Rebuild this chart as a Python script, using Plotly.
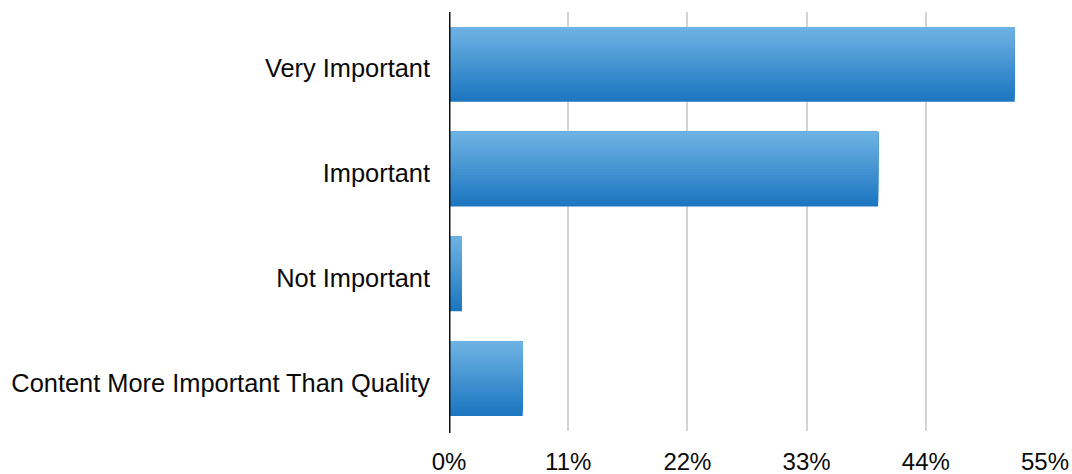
import plotly.graph_objects as go

categories = ["Very Important", "Important", "Not Important", "Content More Important Than Quality"]
values = [52.2, 39.6, 1.2, 6.8]
tick_vals = [0, 11, 22, 33, 44, 55]
tick_text = ["0%", "11%", "22%", "33%", "44%", "55%"]

# gradient simulation: stacked overlay layers, dark bottom -> light top
top_rgb = (110, 178, 228)
bot_rgb = (28, 118, 192)
N = 24
bar_w = 0.714
fig = go.Figure()
for k in range(N):
    t = k / (N - 1)
    c = tuple(int(round(bot_rgb[i] + (top_rgb[i] - bot_rgb[i]) * t)) for i in range(3))
    w = bar_w * (1 - k / N)
    fig.add_trace(go.Bar(
        y=categories, x=values, orientation="h",
        width=w, offset=-bar_w / 2,
        marker=dict(color="rgb(%d,%d,%d)" % c, line=dict(width=0)),
        hoverinfo="skip" if k else "x+y", showlegend=False,
    ))

fig.update_layout(
    barmode="overlay",
    width=1072, height=474,
    margin=dict(l=449, r=27, t=11.5, b=42.5, autoexpand=False),
    paper_bgcolor="white", plot_bgcolor="white",
    font=dict(family="Liberation Sans, Arial, sans-serif", size=25.4, color="#0a0a0a"),
    xaxis=dict(
        range=[0, 55], tickvals=tick_vals, ticktext=tick_text,
        showgrid=True, gridcolor="#d4d4d4", gridwidth=1.5,
        zeroline=False, showline=False, ticks="", ticklabelstandoff=14,
        tickfont=dict(size=24), automargin=False,
        fixedrange=True,
    ),
    yaxis=dict(
        categoryorder="array", categoryarray=categories, autorange="reversed",
        showgrid=False, zeroline=False, ticks="", ticklabelstandoff=18,
        ticklabelshift=-4,
        showline=False, fixedrange=True, automargin=False,
    ),
    shapes=[dict(type="line", xref="x", yref="paper", x0=0, x1=0, y0=-0.005, y1=1,
                 line=dict(color="#111", width=3))],
)

fig.write_html("out.html")
